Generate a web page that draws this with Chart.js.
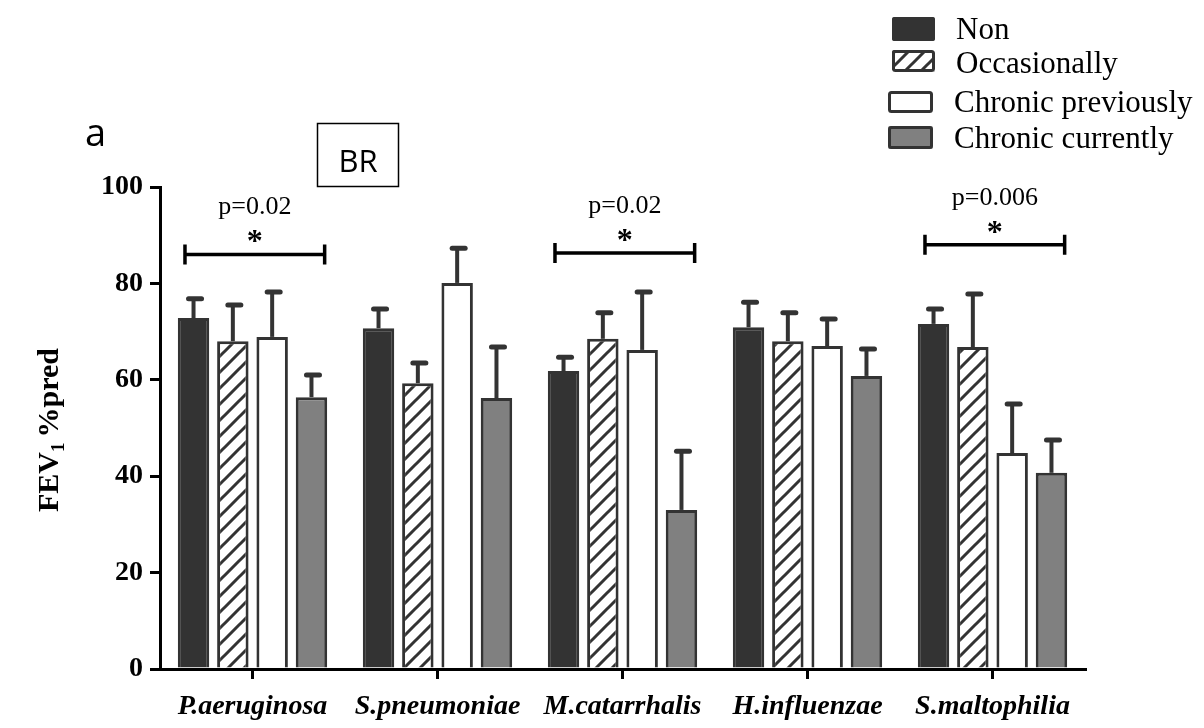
<!DOCTYPE html>
<html><head><meta charset="utf-8">
<script src="https://cdn.jsdelivr.net/npm/chart.js@4.4.1/dist/chart.umd.min.js"></script>
<style>html,body{margin:0;padding:0;background:#fff;}#wrap{position:relative;width:1204px;height:728px;}</style>
</head><body><div id="wrap"><canvas id="c" width="1204" height="728"></canvas></div>
<script>
// ---- data ----
const categories = ['P.aeruginosa', 'S.pneumoniae', 'M.catarrhalis', 'H.influenzae', 'S.maltophilia'];
const seriesNames = ['Non', 'Occasionally', 'Chronic previously', 'Chronic currently'];
const nonValues   = [72.8, 70.7, 61.8, 70.9, 71.6];
const nonErr      = [4.0, 4.0, 2.9, 5.2, 3.1];
const occValues   = [68.0, 59.3, 68.5, 68.0, 66.8];
const occErr      = [7.5, 4.2, 5.4, 5.9, 11.0];
const prevValues  = [68.9, 80.1, 66.2, 67.0, 44.8];
const prevErr     = [9.3, 7.2, 12.0, 5.6, 10.2];
const currValues  = [56.4, 56.2, 33.0, 60.8, 40.7];
const currErr     = [4.6, 10.6, 12.2, 5.6, 6.8];
const yTickValues = [0, 20, 40, 60, 80, 100];
const sigCategory = [0, 2, 4];
const sigLevel    = [86.0, 86.3, 88.0];
const sigLabel    = ['p=0.02', 'p=0.02', 'p=0.006'];
const panelLetter = 'a';
const panelTag    = 'BR';

// ---- styles ----
const DARK = '#333333';
function hatchPattern() {
  const s = 16;
  const c = document.createElement('canvas');
  c.width = s; c.height = s;
  const g = c.getContext('2d');
  g.fillStyle = '#fff'; g.fillRect(0, 0, s, s);
  g.strokeStyle = DARK; g.lineWidth = 3;
  g.beginPath();
  g.moveTo(-2, s + 2); g.lineTo(s + 2, -2);
  g.moveTo(-2 - s, s + 2); g.lineTo(2, -2);
  g.moveTo(s - 2, s + 2); g.lineTo(2 * s + 2, -2);
  g.stroke();
  return document.getElementById('c').getContext('2d').createPattern(c, 'repeat');
}
const hatch = hatchPattern();
const fills = ['#333333', hatch, '#ffffff', '#808080'];
const serif = '"Liberation Serif", "Times New Roman", serif';

const seriesValues = [nonValues, occValues, prevValues, currValues];
const seriesErr = [nonErr, occErr, prevErr, currErr];

const datasets = seriesNames.map((n, i) => ({
  label: n,
  data: seriesValues[i],
  errors: seriesErr[i],
  backgroundColor: fills[i],
  borderColor: DARK,
  borderWidth: 3,
  categoryPercentage: 0.85,
  barPercentage: 0.8
}));

const extras = {
  id: 'extras',
  afterDatasetsDraw(chart) {
    const ctx = chart.ctx;
    const ys = chart.scales.y;
    ctx.save();
    chart.data.datasets.forEach((ds, i) => {
      const meta = chart.getDatasetMeta(i);
      meta.data.forEach((el, j) => {
        const top = ys.getPixelForValue(ds.data[j]);
        const tip = ys.getPixelForValue(ds.data[j] + ds.errors[j]);
        ctx.strokeStyle = DARK;
        ctx.lineCap = 'butt';
        ctx.lineWidth = 4;
        ctx.beginPath(); ctx.moveTo(el.x, top); ctx.lineTo(el.x, tip); ctx.stroke();
        ctx.lineWidth = 5; ctx.lineCap = 'round';
        ctx.beginPath(); ctx.moveTo(el.x - 5, tip); ctx.lineTo(el.x + 8, tip); ctx.stroke();
      });
    });
    ctx.restore();
  },
  afterDraw(chart) {
    const ctx = chart.ctx;
    const xs = chart.scales.x, ys = chart.scales.y;
    const cw = (chart.chartArea.right - chart.chartArea.left) / categories.length;
    ctx.save();
    // significance brackets
    sigCategory.forEach((ci, k) => {
      const cx = xs.getPixelForValue(ci);
      const y = ys.getPixelForValue(sigLevel[k]);
      const x1 = cx - 0.365 * cw, x2 = cx + 0.39 * cw;
      ctx.strokeStyle = '#000'; ctx.lineWidth = 3.5; ctx.lineCap = 'butt';
      ctx.beginPath();
      ctx.moveTo(x1, y); ctx.lineTo(x2, y);
      ctx.moveTo(x1, y - 10); ctx.lineTo(x1, y + 10);
      ctx.moveTo(x2, y - 10); ctx.lineTo(x2, y + 10);
      ctx.stroke();
      const mx = (x1 + x2) / 2;
      ctx.fillStyle = '#000'; ctx.textAlign = 'center'; ctx.textBaseline = 'alphabetic';
      ctx.font = '26px ' + serif;
      ctx.fillText(sigLabel[k], mx, y - 40);
      ctx.font = 'bold 32px ' + serif;
      ctx.fillText('*', mx, y - 3);
    });
    // y-axis title
    ctx.save();
    ctx.translate(58, 430);
    ctx.rotate(-Math.PI / 2);
    ctx.fillStyle = '#000'; ctx.textBaseline = 'alphabetic'; ctx.textAlign = 'left';
    const fMain = 'bold 30px ' + serif, fSub = 'bold 19px ' + serif;
    const gap = 5;
    ctx.font = fMain; const w1 = ctx.measureText('FEV').width; const w3 = ctx.measureText('%pred').width;
    ctx.font = fSub; const w2 = ctx.measureText('1').width;
    let x0 = -(w1 + w2 + gap + w3) / 2;
    ctx.font = fMain; ctx.fillText('FEV', x0, 0);
    ctx.font = fSub; ctx.fillText('1', x0 + w1, 6);
    ctx.font = fMain; ctx.fillText('%pred', x0 + w1 + w2 + gap, 0);
    ctx.restore();
    // panel letter and tag
    ctx.fillStyle = '#000'; ctx.textAlign = 'left'; ctx.textBaseline = 'alphabetic';
    ctx.font = '38px "Open Sans", sans-serif';
    ctx.fillText(panelLetter, 85, 146);
    ctx.strokeStyle = '#000'; ctx.lineWidth = 1.5;
    ctx.strokeRect(317.5, 123.5, 81, 63);
    ctx.textAlign = 'center';
    ctx.font = '31px "Open Sans", sans-serif';
    ctx.fillText(panelTag, 358, 172);
    // legend
    const sw = [[892, 17, 43, 24], [892, 50, 43, 22], [888, 91, 45, 22], [888, 126, 45, 23]];
    const tx = [956, 956, 954, 954];
    const tb = [39, 73, 112, 148];
    chart.data.datasets.forEach((ds, i) => {
      const [x, y, w, h] = sw[i];
      ctx.fillStyle = ds.backgroundColor;
      ctx.beginPath(); ctx.roundRect(x, y, w, h, 2); ctx.fill();
      ctx.strokeStyle = DARK; ctx.lineWidth = 3;
      ctx.beginPath(); ctx.roundRect(x + 1.5, y + 1.5, w - 3, h - 3, 2); ctx.stroke();
      ctx.fillStyle = '#000'; ctx.textAlign = 'left';
      ctx.font = '31px ' + serif;
      ctx.fillText(ds.label, tx[i], tb[i]);
    });
    ctx.restore();
  }
};

new Chart(document.getElementById('c'), {
  type: 'bar',
  data: { labels: categories, datasets },
  options: {
    responsive: false,
    animation: false,
    devicePixelRatio: 1,
    layout: { padding: { left: 0, top: 187, right: 119, bottom: 0 } },
    plugins: { legend: { display: false }, tooltip: { enabled: false } },
    scales: {
      x: {
        grid: { display: true, drawOnChartArea: false, drawTicks: true, tickLength: 10, offset: false, color: '#000', lineWidth: 3 },
        border: { display: true, color: '#000', width: 3 },
        ticks: { color: '#000', padding: 11, maxRotation: 0, autoSkip: false,
          font: { family: serif, size: 28, weight: 'bold', style: 'italic' } },
        afterFit(s) { s.height = 728 - 669; }
      },
      y: {
        min: 0, max: 100,
        afterBuildTicks(s) { s.ticks = yTickValues.map(v => ({ value: v })); },
        grid: { display: true, drawOnChartArea: false, drawTicks: true, tickLength: 10, color: '#000', lineWidth: 3 },
        border: { display: true, color: '#000', width: 3 },
        ticks: { color: '#000', padding: 7, font: { family: serif, size: 28, weight: 'bold' } },
        afterFit(s) { s.width = 160; }
      }
    }
  },
  plugins: [extras]
});
</script>
</body></html>
